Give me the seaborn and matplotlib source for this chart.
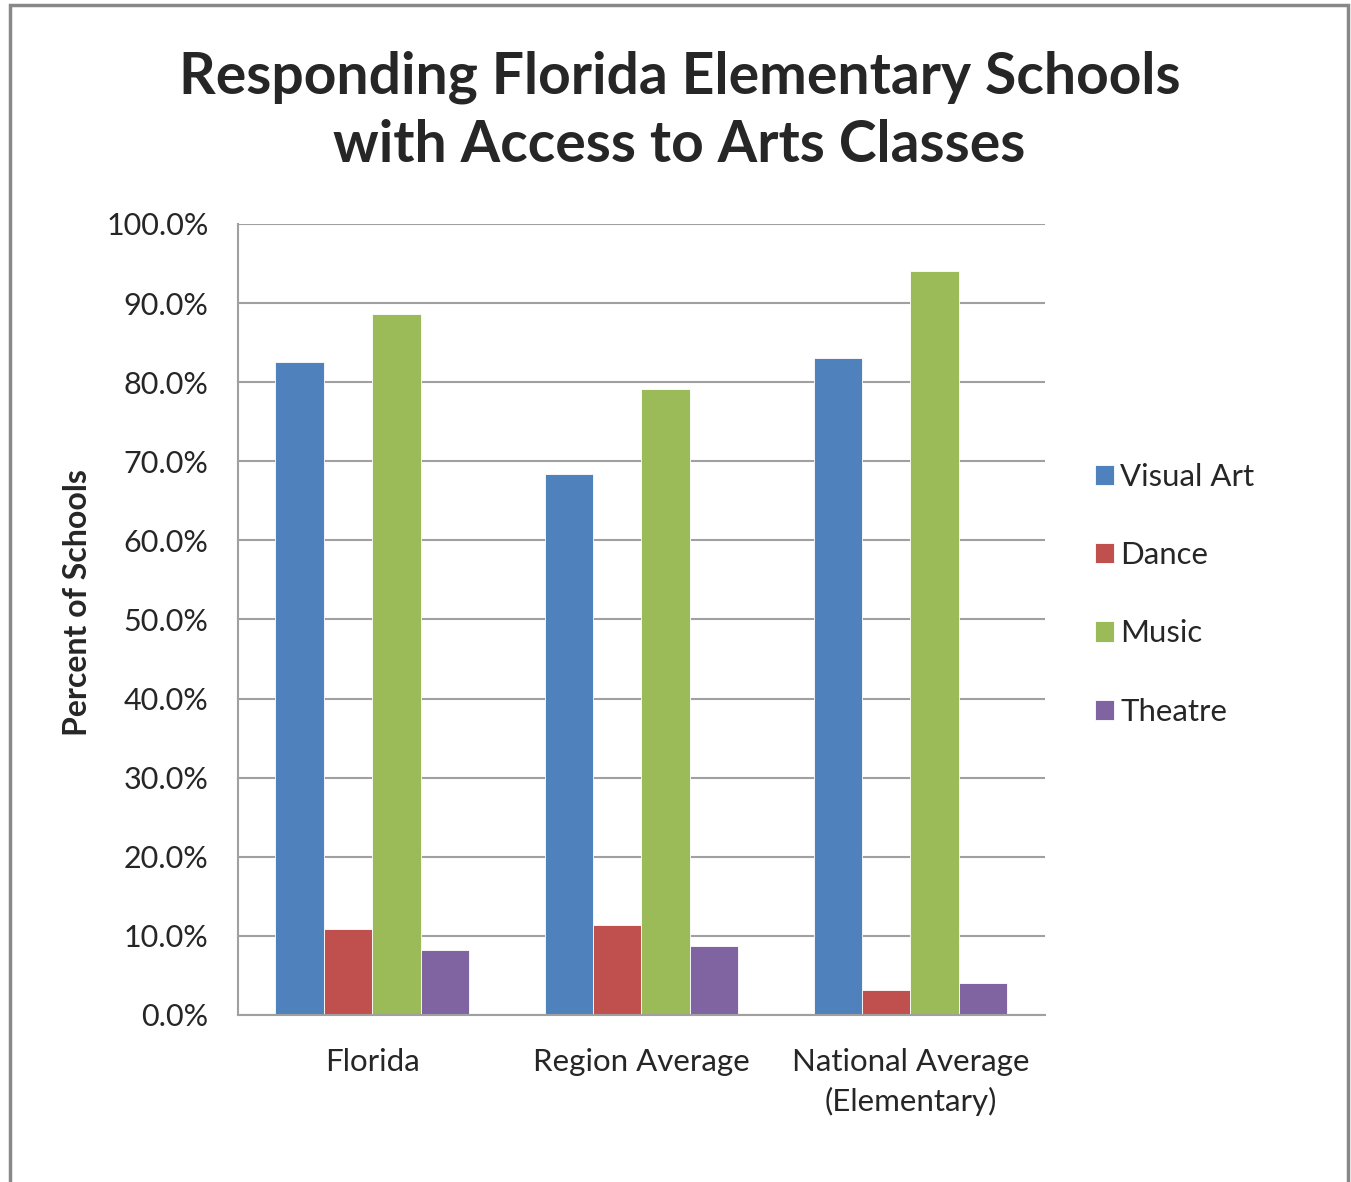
import pandas as pd
import matplotlib.pyplot as plt
import seaborn as sns
from matplotlib.patches import Rectangle
from matplotlib.ticker import PercentFormatter

groups = ['Florida', 'Region Average', 'National Average\n(Elementary)']
subjects = ['Visual Art', 'Dance', 'Music', 'Theatre']
visual_art = [82.5, 68.4, 83.0]
dance = [10.9, 11.4, 3.1]
music = [88.6, 79.2, 94.0]
theatre = [8.2, 8.7, 4.1]
colors = ['#4F81BD', '#C0504D', '#9BBB59', '#8064A2']

rows = []
for subj, vals in zip(subjects, [visual_art, dance, music, theatre]):
    for g, v in zip(groups, vals):
        rows.append({'Group': g, 'Subject': subj, 'Percent': v})
df = pd.DataFrame(rows)

sns.set_style('white')
plt.rcParams['font.family'] = ['Lato', 'DejaVu Sans']

fig = plt.figure(figsize=(13.51, 11.82), dpi=100)
ax = fig.add_axes([0.176, 0.1413, 0.5975, 0.6692])
sns.barplot(data=df, x='Group', y='Percent', hue='Subject', order=groups,
            hue_order=subjects, palette=colors, width=0.72, ax=ax,
            saturation=1, edgecolor='white', linewidth=0.6)

ax.set_ylim(0, 100)
ax.set_xlim(-0.5, 2.5)
ax.set_yticks(range(0, 101, 10))
ax.yaxis.set_major_formatter(PercentFormatter(decimals=1))
ax.grid(axis='y', color='#A0A0A0', linewidth=1.5)
ax.set_axisbelow(True)
for s in ['top', 'right']:
    ax.spines[s].set_visible(False)
for s in ['left', 'bottom']:
    ax.spines[s].set_color('#A0A0A0')
    ax.spines[s].set_linewidth(1.5)
ax.tick_params(axis='y', length=10, width=1.5, color='#A0A0A0', labelsize=22, pad=11)
ax.tick_params(axis='x', length=0, labelsize=22.5, pad=24)
for lbl in ax.get_xticklabels():
    lbl.set_linespacing(1.45)
ax.set_xlabel('')
ax.set_ylabel('Percent of Schools', fontsize=23, fontweight='bold')
ax.yaxis.set_label_coords(-0.18, 0.521)

ax.legend(loc='center left', bbox_to_anchor=(1.027, 0.532), frameon=False,
          fontsize=22.4, handlelength=0.62, handleheight=0.62, handletextpad=0.2,
          labelspacing=1.62)

fig.text(0.503, 0.906, 'Responding Florida Elementary Schools\nwith Access to Arts Classes',
         ha='center', va='center', fontsize=41, fontweight='bold', linespacing=1.35)

fig.patches.append(Rectangle((0.0075, -0.01), 0.9905, 1.006, transform=fig.transFigure,
                             fill=False, edgecolor='#888888', linewidth=2.5))

fig.savefig('out.png', dpi=100)
